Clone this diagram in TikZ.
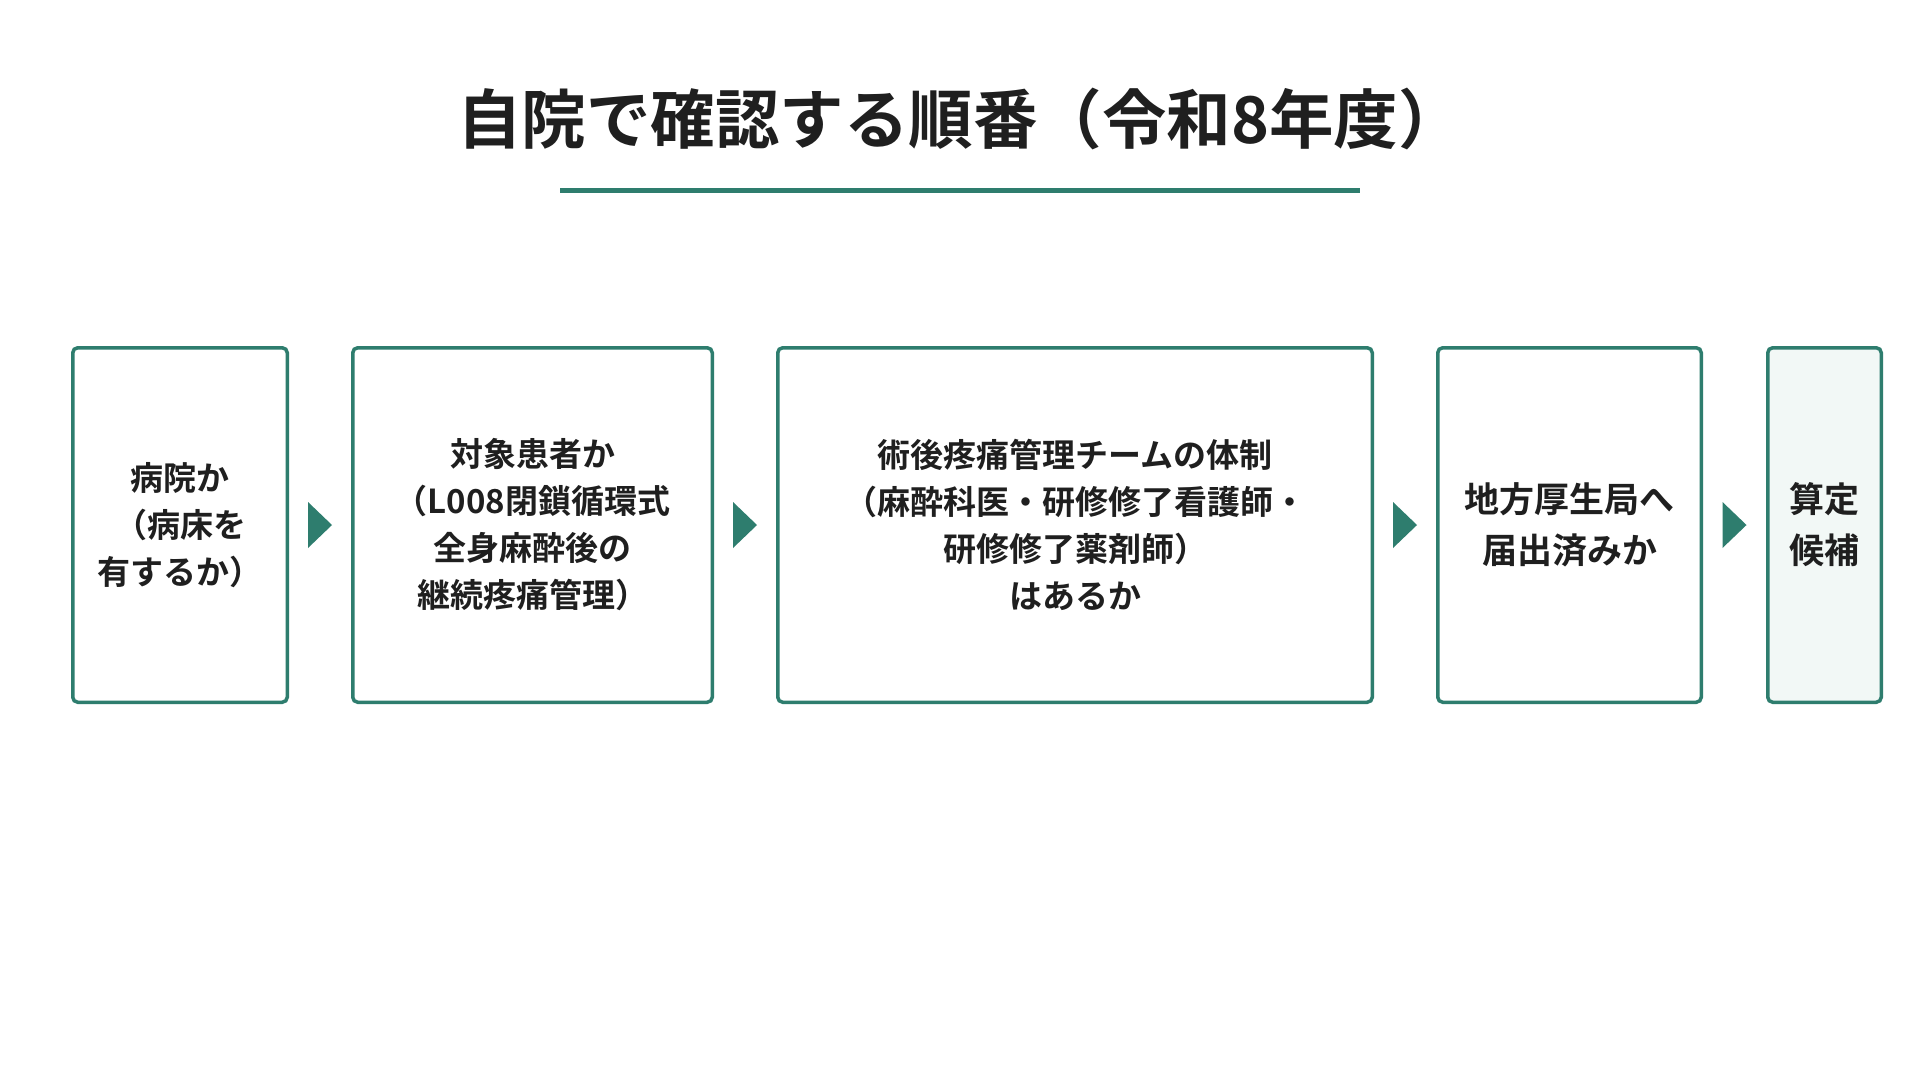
\documentclass[tikz,border=0pt]{standalone}
\usepackage{fontspec}
\setmainfont{Noto Sans CJK JP}[BoldFont={Noto Sans CJK JP Bold}]
\usetikzlibrary{calc}
\definecolor{tgreen}{HTML}{2E7D6E}
\definecolor{tdark}{HTML}{1F1F1F}
\definecolor{tpale}{HTML}{F2F8F6}
\begin{document}
\begin{tikzpicture}[x=1pt,y=-1pt,
  box/.style={draw=tgreen, line width=3.5pt, rounded corners=5pt, fill=white,
    text=tdark, align=center, inner sep=0pt, minimum height=354.5pt,
    font=\fontsize{33}{47}\selectfont\bfseries},
  bigbox/.style={box, font=\fontsize{35}{51}\selectfont\bfseries},
  title/.style={text=tdark, font=\fontsize{64.5}{72}\selectfont\bfseries, inner sep=0pt},
  tri/.style={fill=tgreen}]
\fill[white] (0,0) rectangle (1920,1080);
\useasboundingbox (0,0) rectangle (1920,1080);
\node[title] (title) at (960,119) {自院で確認する順番（令和8年度）};
\coordinate (ul1) at (560,190);
\coordinate (ul2) at (1360,190);
\draw[tgreen, line width=5pt] (ul1) -- (ul2);
\node[box, minimum width=214.5pt] (b1) at (180,525) {病院か\\（病床を\\有するか）};
\node[box, minimum width=359.5pt] (b2) at (532.5,525) {対象患者か\\（L008閉鎖循環式\\全身麻酔後の\\継続疼痛管理）};
\node[box, minimum width=594.5pt] (b3) at (1075,525) {術後疼痛管理チームの体制\\（麻酔科医・研修修了看護師・\\研修修了薬剤師）\\はあるか};
\node[bigbox, minimum width=263.5pt] (b4) at (1569.5,525) {地方厚生局へ\\届出済みか};
\node[bigbox, minimum width=113.5pt, fill=tpale] (b5) at (1824.5,525) {算定\\候補};
\foreach \a/\b in {b1/b2, b2/b3, b3/b4, b4/b5}{
  \fill[tri] ($(\a.east)!0.5!(\b.west)+(-12,-23)$) -- ++(24,23) -- ++(-24,23) -- cycle;
}
\end{tikzpicture}
\end{document}
